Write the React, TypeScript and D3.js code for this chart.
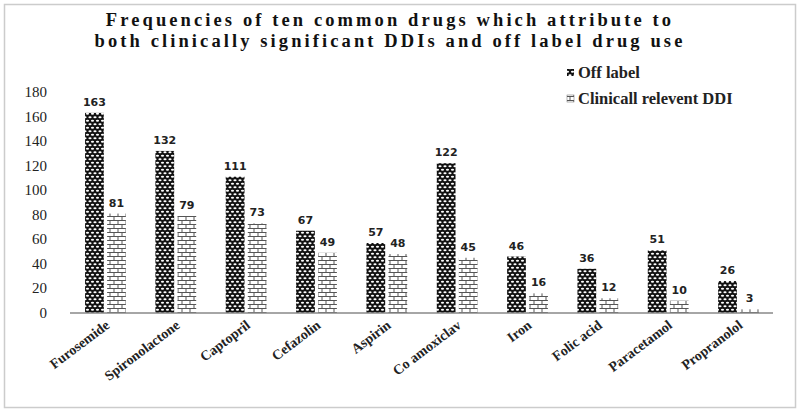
import React from "react";
import * as d3 from "d3";

const drugs = ["Furosemide", "Spironolactone", "Captopril", "Cefazolin", "Aspirin", "Co amoxiclav", "Iron", "Folic acid", "Paracetamol", "Propranolol"];
const offLabel = [163, 132, 111, 67, 57, 122, 46, 36, 51, 26];
const clinical = [81, 79, 73, 49, 48, 45, 16, 12, 10, 3];
const yTicks = [0, 20, 40, 60, 80, 100, 120, 140, 160, 180];
const seriesNames = ["Off label", "Clinicall relevent DDI"];

export default function App() {
  const W = 800, H = 412;
  const x0 = d3.scaleBand().domain(drugs).range([71, 773]).paddingInner(0.42).paddingOuter(0.2);
  const x1 = d3.scaleBand().domain(["off", "cl"]).range([0, x0.bandwidth()]).paddingInner(0.15);
  const y = d3.scaleLinear().domain([0, 180]).range([313, 92]);
  const serif = "'Liberation Serif', 'Times New Roman', serif";
  const sans = "'DejaVu Sans', Verdana, sans-serif";
  return (
    <svg width={W} height={H} style={{ position: "absolute", left: 0, top: 0, background: "#fff" }}>
      <defs>
        <pattern id="pOff" width="5" height="7" patternUnits="userSpaceOnUse">
          <rect width="5" height="7" fill="#111" />
          <ellipse cx="2.5" cy="1.75" rx="1.6" ry="1" fill="#fff" />
          <ellipse cx="0" cy="5.25" rx="1.6" ry="1" fill="#fff" />
          <ellipse cx="5" cy="5.25" rx="1.6" ry="1" fill="#fff" />
        </pattern>
        <pattern id="pCl" width="8" height="8" patternUnits="userSpaceOnUse">
          <rect width="8" height="8" fill="#fff" />
          <line x1="0" y1="0.5" x2="8" y2="0.5" stroke="#555" strokeWidth="1" />
          <line x1="0" y1="4.5" x2="8" y2="4.5" stroke="#555" strokeWidth="1" />
          <line x1="2" y1="0.5" x2="2" y2="4.5" stroke="#555" strokeWidth="1" />
          <line x1="6" y1="4.5" x2="6" y2="8.5" stroke="#555" strokeWidth="1" />
        </pattern>
      </defs>
      <rect x={4.5} y={4.5} width={791} height={403} fill="#fff" stroke="#ccc" strokeWidth={1.5} />
      <text x={390} y={26} textAnchor="middle" fontFamily={serif} fontWeight="bold" fontSize={18.5} letterSpacing={3.1} fill="#111">
        Frequencies of ten common drugs which attribute to
      </text>
      <text x={390} y={47} textAnchor="middle" fontFamily={serif} fontWeight="bold" fontSize={18.5} letterSpacing={3.1} fill="#111">
        both clinically significant DDIs and off label drug use
      </text>
      {yTicks.map((t) => (
        <text key={t} x={47} y={y(t) + 5} textAnchor="end" fontFamily={serif} fontSize={15} fill="#222">
          {t}
        </text>
      ))}
      {drugs.map((d, i) => {
        const gx = x0(d)!;
        const xo = gx + x1("off")!;
        const xc = gx + x1("cl")!;
        const bw = x1.bandwidth();
        return (
          <g key={d}>
            <rect x={xo} y={y(offLabel[i])} width={bw} height={y(0) - y(offLabel[i])} fill="url(#pOff)" />
            <rect x={xc} y={y(clinical[i])} width={bw} height={y(0) - y(clinical[i])} fill="url(#pCl)" />
            <text x={xo + bw / 2} y={y(offLabel[i]) - 7} textAnchor="middle" fontFamily={sans} fontWeight="bold" fontSize={11} fill="#222">
              {offLabel[i]}
            </text>
            <text x={xc + bw / 2} y={y(clinical[i]) - 7} textAnchor="middle" fontFamily={sans} fontWeight="bold" fontSize={11} fill="#222">
              {clinical[i]}
            </text>
            <text
              transform={`translate(${gx + x0.bandwidth() / 2 + 5},${y(0) + 14}) rotate(-37)`}
              textAnchor="end"
              fontFamily={serif}
              fontWeight="bold"
              fontSize={14}
              fill="#222"
            >
              {d}
            </text>
          </g>
        );
      })}
      <line x1={70} x2={773} y1={y(0)} y2={y(0)} stroke="#888" strokeWidth={1.5} />
      <rect x={567} y={69} width={7} height={7} fill="url(#pOff)" />
      <text x={578} y={78} fontFamily={serif} fontWeight="bold" fontSize={16.5} fill="#222">{seriesNames[0]}</text>
      <rect x={567} y={95} width={7} height={7} fill="url(#pCl)" stroke="#666" strokeWidth={0.5} />
      <text x={578} y={104} fontFamily={serif} fontWeight="bold" fontSize={16.5} fill="#222">{seriesNames[1]}</text>
    </svg>
  );
}
